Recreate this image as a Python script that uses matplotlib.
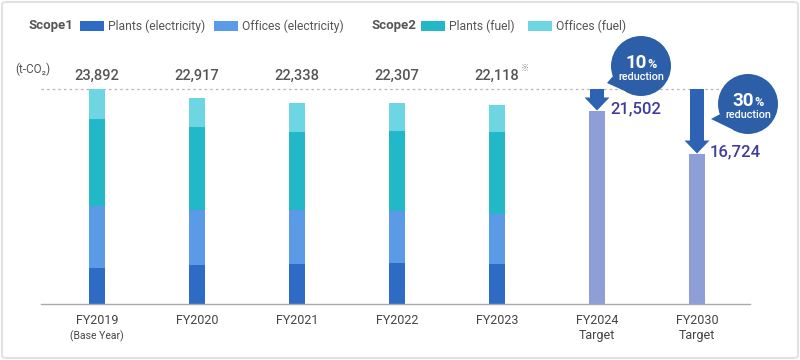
import math
import matplotlib
matplotlib.use("Agg")
import matplotlib.pyplot as plt
from matplotlib.patches import Rectangle, Circle, Polygon, FancyBboxPatch
from matplotlib.transforms import ScaledTranslation

plt.rcParams['font.family'] = ['Roboto', 'DejaVu Sans']

# data
years = ['FY2019', 'FY2020', 'FY2021', 'FY2022', 'FY2023']
sub_labels = ['(Base Year)', '', '', '', '']
plants_elec = [4033, 4333, 4444, 4555, 4444]
offices_elec = [6855, 6111, 6000, 5815, 5593]
plants_fuel = [9667, 9222, 8667, 8845, 9037]
offices_fuel = [3337, 3251, 3227, 3092, 3044]
totals = [23892, 22917, 22338, 22307, 22118]

targets = ['FY2024', 'FY2030']
target_values = [21502, 16724]
reductions = ['10', '30']

c_pe = '#2e6bc5'
c_oe = '#5a9ae6'
c_pf = '#23b8c8'
c_of = '#6ed6e3'
c_tg = '#8e9fd8'
c_arrow = '#2e62b2'
c_circle = '#2d5fa9'
c_tgtext = '#3f3c9c'
c_text = '#555555'

fig = plt.figure(figsize=(8, 3.6), dpi=100)
ax = fig.add_axes([41 / 800, 56 / 360, 709 / 800, 284 / 360])
px = 23892 / 215.0  # data units per pixel (vertical)
ax.set_xlim(-0.56, 6.53)
ax.set_ylim(0, 284 * px)
for s in ['top', 'right', 'left']:
    ax.spines[s].set_visible(False)
ax.spines['bottom'].set_color('#aaaaaa')
ax.spines['bottom'].set_linewidth(1.0)
ax.set_xticks([])
ax.set_yticks([])

w = 0.16
xs = list(range(len(years)))
bottom = [0] * len(years)
for vals, col in [(plants_elec, c_pe), (offices_elec, c_oe), (plants_fuel, c_pf), (offices_fuel, c_of)]:
    ax.bar(xs, vals, width=w, bottom=bottom, color=col, linewidth=0)
    bottom = [b + v for b, v in zip(bottom, vals)]

txs = [len(years) + i for i in range(len(targets))]
ax.bar(txs, target_values, width=w, color=c_tg, linewidth=0)

base = totals[0]
ax.axhline(base, color='#b5b5b5', lw=0.9, ls=(0, (2, 2.5)), zorder=0)

# total labels
for x, t in zip(xs, totals):
    ax.annotate(f'{t:,}', (x, base), xytext=(0, 13), textcoords='offset pixels',
                ha='center', va='center', fontsize=10.5, fontweight='medium', color=c_text)
ax.annotate('※', (xs[-1], base), xytext=(28, 21), textcoords='offset pixels',
            ha='center', va='center', fontsize=6, color='#888888',
            family=['Noto Sans CJK JP', 'DejaVu Sans'])

# x labels
for x, lab, sub in zip(xs, years, sub_labels):
    ax.annotate(lab, (x, 0), xytext=(0, -17), textcoords='offset pixels',
                ha='center', va='center', fontsize=9, color='#444444')
    if sub:
        ax.annotate(sub, (x, 0), xytext=(0, -32), textcoords='offset pixels',
                    ha='center', va='center', fontsize=7.5, color='#444444')
for x, lab in zip(txs, targets):
    ax.annotate(lab, (x, 0), xytext=(0, -17), textcoords='offset pixels',
                ha='center', va='center', fontsize=9, color='#444444')
    ax.annotate('Target', (x, 0), xytext=(0, -31), textcoords='offset pixels',
                ha='center', va='center', fontsize=9, color='#444444')

# arrows, target labels, callouts
circ_off = [((0.44, 0.23), (0.10, 0.06)), ((0.51, -0.15), (0.14, -0.30))]
for x, v, red, (cen, tip) in zip(txs, target_values, reductions, circ_off):
    sw, hw, hl = 0.07, 0.125, 13 * px
    pts = [(x - sw, base), (x + sw, base), (x + sw, v + hl), (x + hw, v + hl),
           (x, v), (x - hw, v + hl), (x - sw, v + hl)]
    ax.add_patch(Polygon(pts, closed=True, color=c_arrow, lw=0, zorder=3))
    ax.annotate(f'{v:,}', (x, v), xytext=(13, 2), textcoords='offset pixels',
                ha='left', va='center', fontsize=12, fontweight='medium', color=c_tgtext)

    tr = fig.dpi_scale_trans + ScaledTranslation(x, base, ax.transData)
    r = 0.30
    cx, cy = cen
    a1, a2 = math.radians(200), math.radians(235)
    tail = [(cx + r * math.cos(a1), cy + r * math.sin(a1)), tip,
            (cx + r * math.cos(a2), cy + r * math.sin(a2))]
    ax.add_patch(Polygon(tail, closed=True, color=c_circle, lw=0, transform=tr,
                         clip_on=False, zorder=4))
    ax.add_patch(Circle((cx, cy), r, color=c_circle, lw=0, transform=tr,
                        clip_on=False, zorder=4))
    ax.text(cx + 0.06, cy - 0.02, red, transform=tr, ha='right', va='baseline',
            fontsize=13.5, fontweight='bold', color='white', zorder=5)
    ax.text(cx + 0.065, cy - 0.02, '%', transform=tr, ha='left', va='baseline',
            fontsize=9, fontweight='bold', color='white', zorder=5)
    ax.text(cx, cy - 0.107, 'reduction', transform=tr, ha='center', va='center',
            fontsize=7.8, fontweight='medium', color='white', zorder=5)

# unit label
fig.text(15 / 800, 1 - 69 / 360, '(t-CO₂)', ha='left', va='center', fontsize=8.5, color='#555555')

# legend
ly = 1 - 26 / 360
fig.text(28 / 800, ly, 'Scope1', ha='left', va='center', fontsize=9.5, fontweight='bold', color='#555555')
fig.text(372 / 800, ly, 'Scope2', ha='left', va='center', fontsize=9.5, fontweight='bold', color='#555555')
legend_items = [(80, c_pe, 'Plants (electricity)'), (214, c_oe, 'Offices (electricity)'),
                (421, c_pf, 'Plants (fuel)'), (528, c_of, 'Offices (fuel)')]
for lx, col, lab in legend_items:
    fig.patches.append(Rectangle((lx / 800, 1 - 31 / 360), 24 / 800, 10 / 360,
                                 transform=fig.transFigure, color=col, lw=0))
    fig.text((lx + 28) / 800, ly, lab, ha='left', va='center', fontsize=8.7, color='#555555')

# frame
fig.patches.append(FancyBboxPatch((2 / 800, 2 / 360), 796 / 800, 356 / 360,
                                  boxstyle='round,pad=0,rounding_size=0.006',
                                  transform=fig.transFigure, fill=False,
                                  edgecolor='#e2e2e2', lw=1.5))

fig.savefig('out.png', dpi=100)
